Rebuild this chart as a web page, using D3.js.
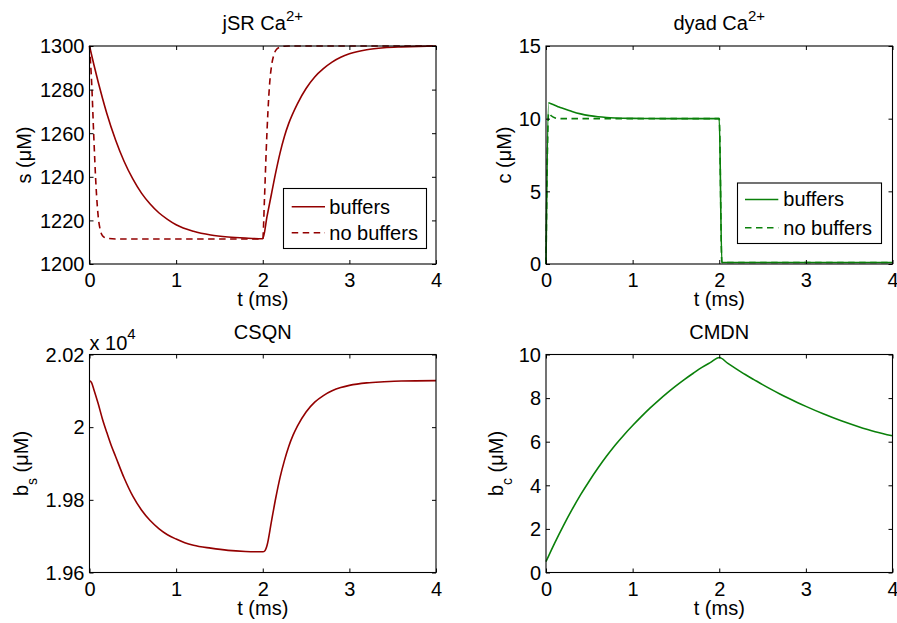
<!DOCTYPE html>
<html><head><meta charset="utf-8">
<script src="https://cdn.jsdelivr.net/npm/d3@7"></script>
<style>
body{margin:0;background:#fff}
svg{display:block}
text{font-family:"Liberation Sans",Arial,Helvetica,sans-serif;fill:#000}
</style>
</head><body>
<svg id="chart" width="897" height="623"></svg>
<script>
// ---------------- DATA ----------------
const xTicks = [0, 1, 2, 3, 4];
const xTickLabels = ["0", "1", "2", "3", "4"];

// jSR Ca2+ (s, µM)
const sBufT = [0,0.05,0.1,0.15,0.2,0.3,0.4,0.5,0.6,0.7,0.8,0.9,1.0,1.2,1.4,1.6,1.8,2.0,
  2.05,2.1,2.15,2.2,2.25,2.3,2.4,2.5,2.6,2.7,2.8,2.9,3.0,3.2,3.4,3.6,3.8,4.0];
const sBufV = [1300,1291.5,1283.5,1276,1269,1257,1247,1239,1232.5,1227.5,1223.5,1220.5,1218,1215,1213.3,1212.4,1211.9,1211.6,
  1222,1232,1242,1251,1258.5,1264.5,1273.5,1280.5,1285.8,1289.6,1292.6,1294.8,1296.4,1298.3,1299.2,1299.6,1299.85,1300];
const sNoBufT = [0,0.025,0.05,0.075,0.1,0.125,0.15,0.2,0.3,1.0,2.0,
  2.02,2.04,2.06,2.08,2.1,2.125,2.15,2.2,2.25,2.3,3.0,4.0];
const sNoBufV = [1300,1283,1258,1236,1222,1215.5,1213,1211.8,1211.5,1211.5,1211.5,
  1230,1252,1270,1283,1290.5,1295.5,1298,1299.5,1299.9,1300,1300,1300];
const sTicks = [1200, 1220, 1240, 1260, 1280, 1300];
const sTickLabels = ["1200", "1220", "1240", "1260", "1280", "1300"];

// dyad Ca2+ (c, µM)
const cBufT = [0,0.03,0.05,0.1,0.15,0.2,0.25,0.3,0.4,0.5,0.6,0.7,0.8,1.0,1.2,1.5,2.0,2.03,3.0,4.0];
const cBufV = [0,11.1,11.05,10.93,10.8,10.7,10.6,10.5,10.33,10.21,10.13,10.08,10.05,10.02,10.01,10.0,10.0,0.1,0.1,0.1];
const cNoBufT = [0,0.03,0.06,0.1,0.15,0.2,1.0,2.0,2.03,3.0,4.0];
const cNoBufV = [0,10.4,10.2,10.06,10.01,10.0,10.0,10.0,0.1,0.1,0.1];
const cTicks = [0, 5, 10, 15];
const cTickLabels = ["0", "5", "10", "15"];

// CSQN (b_s, µM)
const bsT = [0,0.025,0.05,0.1,0.15,0.2,0.25,0.3,0.4,0.5,0.6,0.7,0.8,0.9,1.0,1.1,1.2,1.4,1.6,1.8,2.0,
  2.025,2.05,2.1,2.15,2.2,2.25,2.3,2.35,2.4,2.5,2.6,2.7,2.8,2.9,3.0,3.2,3.4,3.6,4.0];
const bsV = [20128,20122,20104,20065,20022,19985,19950,19920,19860,19810,19772,19743,19721,19704,19692,19682,19675,19667,19661,19658,19657,
  19660,19675,19740,19805,19862,19908,19947,19978,20003,20042,20069,20087,20100,20109,20115,20122,20125,20127,20128];
const bsTicks = [19600, 19800, 20000, 20200];
const bsTickLabels = ["1.96", "1.98", "2", "2.02"];

// CMDN (b_c, µM)
const bcT = [0,0.1,0.2,0.3,0.4,0.5,0.6,0.7,0.8,0.9,1.0,1.1,1.2,1.3,1.4,1.5,1.6,1.7,1.8,1.9,2.0,
  2.1,2.2,2.3,2.4,2.5,2.6,2.7,2.8,2.9,3.0,3.2,3.4,3.6,3.8,4.0];
const bcV = [0.5,1.35,2.14,2.88,3.57,4.2,4.79,5.34,5.85,6.31,6.74,7.15,7.54,7.9,8.24,8.56,8.86,9.14,9.41,9.64,9.86,
  9.59,9.33,9.08,8.85,8.62,8.40,8.19,7.99,7.80,7.62,7.28,6.97,6.70,6.46,6.27];
const bcTicks = [0, 2, 4, 6, 8, 10];
const bcTickLabels = ["0", "2", "4", "6", "8", "10"];

const legendLabels = ["buffers", "no buffers"];

// ---------------- STYLE / LAYOUT ----------------
const RED = "#930000", GREEN = "#0a800a";
const FONT = 20;
const zip = (t, v) => t.map((d, i) => [d, v[i]]);

const panels = [
  { x0: 89.5, x1: 436, y0: 46, y1: 264, domain: [1200, 1300], ticks: sTicks, labels: sTickLabels,
    title: ["jSR Ca", "2+"], ylab: ["s", null, " (μM)"], ylabX: 31,
    series: [{d: zip(sBufT, sBufV), c: RED, dash: null}, {d: zip(sNoBufT, sNoBufV), c: RED, dash: "6.5,4.5"}],
    legend: {x0: 283.5, y0: 188.5, x1: 426.5, y1: 248.5, rows: [206.7, 232.7], lx0: 291.7, lx1: 325, tx: 329.3} },
  { x0: 546, x1: 892.5, y0: 46, y1: 264, domain: [0, 15], ticks: cTicks, labels: cTickLabels,
    title: ["dyad Ca", "2+"], ylab: ["c", null, " (μM)"], ylabX: 510.5,
    series: [{d: zip(cBufT, cBufV), c: GREEN, dash: null}, {d: zip(cNoBufT, cNoBufV), c: GREEN, dash: "6.5,4.5"}],
    legend: {x0: 737.5, y0: 183, x1: 881.5, y1: 243.5, rows: [199.5, 227.7], lx0: 745, lx1: 778.3, tx: 783.3} },
  { x0: 89.5, x1: 436, y0: 354.5, y1: 572.5, domain: [19600, 20200], ticks: bsTicks, labels: bsTickLabels,
    title: ["CSQN", null], ylab: ["b", "s", " (μM)"], ylabX: 28.3, exponent: true,
    series: [{d: zip(bsT, bsV), c: RED, dash: null}] },
  { x0: 546, x1: 892.5, y0: 354.5, y1: 572.5, domain: [0, 10], ticks: bcTicks, labels: bcTickLabels,
    title: ["CMDN", null], ylab: ["b", "c", " (μM)"], ylabX: 503.3,
    series: [{d: zip(bcT, bcV), c: GREEN, dash: null}] }
];

const svg = d3.select("#chart");

panels.forEach(p => {
  const x = d3.scaleLinear().domain([0, 4]).range([p.x0, p.x1]);
  const y = d3.scaleLinear().domain(p.domain).range([p.y1, p.y0]);
  const g = svg.append("g");

  // data lines
  const line = d3.line().x(d => x(d[0])).y(d => y(d[1])).curve(d3.curveMonotoneX);
  p.series.forEach(s => {
    g.append("path").attr("d", line(s.d)).attr("fill", "none")
      .attr("stroke", s.c).attr("stroke-width", 1.6)
      .attr("stroke-dasharray", s.dash);
  });

  // axes
  const styleAxis = a => {
    a.select(".domain").remove();
    a.selectAll("line").attr("stroke", "#000").attr("stroke-width", 1);
    a.attr("font-size", FONT).attr("font-family", null);
  };
  const ax = g.append("g").attr("transform", `translate(0,${p.y1})`)
    .call(d3.axisBottom(x).tickValues(xTicks).tickFormat((d, i) => xTickLabels[i]).tickSize(-4).tickPadding(9));
  styleAxis(ax);
  const axT = g.append("g").attr("transform", `translate(0,${p.y0})`)
    .call(d3.axisTop(x).tickValues(xTicks).tickFormat("").tickSize(-4));
  styleAxis(axT);
  const ay = g.append("g").attr("transform", `translate(${p.x0},0)`)
    .call(d3.axisLeft(y).tickValues(p.ticks).tickFormat((d, i) => p.labels[i]).tickSize(-4).tickPadding(5));
  styleAxis(ay);
  ay.selectAll("text").attr("dy", "0.34em");
  const ayR = g.append("g").attr("transform", `translate(${p.x1},0)`)
    .call(d3.axisRight(y).tickValues(p.ticks).tickFormat("").tickSize(-4));
  styleAxis(ayR);

  // box
  g.append("rect").attr("x", p.x0).attr("y", p.y0)
    .attr("width", p.x1 - p.x0).attr("height", p.y1 - p.y0)
    .attr("fill", "none").attr("stroke", "#000").attr("stroke-width", 1.1);

  const cx = (p.x0 + p.x1) / 2, cy = (p.y0 + p.y1) / 2;

  // title
  const t = g.append("text").attr("x", cx).attr("y", p.y0 - 16).attr("text-anchor", "middle").attr("font-size", FONT);
  t.append("tspan").text(p.title[0]);
  if (p.title[1]) t.append("tspan").attr("font-size", 15).attr("dy", -9).text(p.title[1]);

  // x label
  g.append("text").attr("x", cx).attr("y", p.y1 + 42).attr("text-anchor", "middle")
    .attr("font-size", FONT).text("t (ms)");

  // y label
  const yl = g.append("text").attr("transform", `translate(${p.ylabX},${cy}) rotate(-90)`)
    .attr("text-anchor", "middle").attr("font-size", FONT);
  yl.append("tspan").text(p.ylab[0]);
  if (p.ylab[1]) {
    yl.append("tspan").attr("font-size", 14).attr("dy", 9).text(p.ylab[1]);
    yl.append("tspan").attr("dy", -9).text(p.ylab[2]);
  } else {
    yl.append("tspan").text(p.ylab[2]);
  }

  // exponent
  if (p.exponent) {
    const e = g.append("text").attr("x", p.x0).attr("y", p.y0 - 4.5).attr("font-size", FONT);
    e.append("tspan").text("x 10");
    e.append("tspan").attr("font-size", 15).attr("dy", -11).text("4");
  }

  // legend
  if (p.legend) {
    const L = p.legend;
    g.append("rect").attr("x", L.x0).attr("y", L.y0).attr("width", L.x1 - L.x0).attr("height", L.y1 - L.y0)
      .attr("fill", "#fff").attr("stroke", "#000").attr("stroke-width", 1.1);
    p.series.forEach((s, i) => {
      g.append("line").attr("x1", L.lx0).attr("x2", L.lx1).attr("y1", L.rows[i]).attr("y2", L.rows[i])
        .attr("stroke", s.c).attr("stroke-width", 1.6).attr("stroke-dasharray", s.dash);
      g.append("text").attr("x", L.tx).attr("y", L.rows[i]).attr("dy", "0.34em")
        .attr("font-size", FONT).text(legendLabels[i]);
    });
  }
});
</script>
</body></html>
